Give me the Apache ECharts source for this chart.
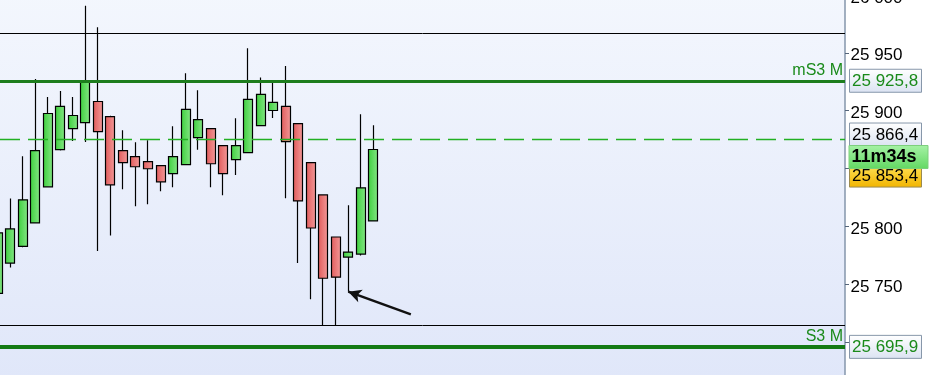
<!DOCTYPE html>
<html>
<head>
<meta charset="utf-8">
<script src="https://cdn.jsdelivr.net/npm/echarts@6/dist/echarts.min.js"></script>
<style>
  html, body { margin: 0; padding: 0; background: #ffffff; }
  #chart { width: 931px; height: 375px; }
</style>
</head>
<body>
<div id="chart"></div>
<script>
// Bar positions (bar index along the time axis)
const barIndex = [0, 1, 2, 3, 4, 5, 6, 7, 8, 9, 10, 11, 12, 13, 14, 15,
  16, 17, 18, 19, 20, 21, 22, 23, 24, 25, 26, 27, 28, 29, 30];
const opens = [25742.2, 25768.3, 25782.7, 25803.0, 25834.2, 25866.3, 25884.5, 25889.7,
  25907.9, 25894.9, 25865.4, 25860.2, 25855.9, 25852.4, 25845.5, 25853.3,
  25876.7, 25884.5, 25869.8, 25857.6, 25863.7, 25887.1, 25900.1, 25903.6,
  25888.8, 25855.0, 25827.2, 25790.8, 25773.5, 25776.1, 25804.7];
const closes = [25794.3, 25797.8, 25822.9, 25865.4, 25897.5, 25903.6, 25895.8, 25925.5,
  25881.9, 25835.9, 25855.0, 25851.5, 25849.8, 25838.5, 25860.2, 25901.0,
  25892.3, 25854.1, 25845.5, 25869.8, 25909.7, 25914.0, 25907.1, 25873.2,
  25822.0, 25798.6, 25755.2, 25756.1, 25777.8, 25833.3, 25866.4];
const lows = [25735.0, 25764.4, 25782.0, 25802.5, 25833.5, 25865.5, 25873.7, 25872.9,
  25778.7, 25792.2, 25832.1, 25817.4, 25819.1, 25830.4, 25833.8, 25852.8,
  25866.3, 25833.8, 25826.9, 25844.3, 25863.2, 25886.6, 25893.7, 25824.3,
  25768.3, 25737.0, 25714.2, 25714.2, 25743.6, 25774.8, 25804.2];
const highs = [25801.0, 25824.0, 25860.5, 25927.3, 25911.7, 25916.9, 25911.7, 25990.6,
  25972.1, 25895.5, 25883.0, 25872.6, 25874.4, 25852.9, 25886.5, 25932.2,
  25917.7, 25885.0, 25870.3, 25893.4, 25953.9, 25928.7, 25925.3, 25938.6,
  25889.3, 25855.5, 25827.7, 25791.3, 25818.2, 25896.9, 25887.4];

// Horizontal price levels
const levelValues = [25967.2, 25925.8, 25875.0, 25714.2, 25695.9];
const levelNames  = ['', 'mS3 M', '', '', 'S3 M'];
const levelKinds  = ['thin', 'pivot', 'dash', 'thin', 'pivotBold'];

// Right-hand price tags
const lastPrice = 25866.4;
const secondPrice = 25853.4;
const countdownText = '11m34s';

// Arrow annotation: tail and head in (bar, price)
const arrowTail = [33.0, 25724.0];
const arrowHead = [28.0, 25743.6];

// Axis labels hidden behind price tags
const hiddenTicks = [25700, 25850];

const FONT = "'Liberation Sans', Arial, sans-serif";

function fmtThousands(v, decimals) {
  const s = v.toFixed(decimals).split('.');
  const intPart = s[0].replace(/\B(?=(\d{3})+(?!\d))/g, ' ');
  return s.length > 1 ? intPart + ',' + s[1] : intPart;
}

function grad(c0, c1) {
  return new echarts.graphic.LinearGradient(0, 0, 1, 0, [
    { offset: 0, color: c0 }, { offset: 1, color: c1 }
  ]);
}
function vgrad(c0, c1) {
  return new echarts.graphic.LinearGradient(0, 0, 0, 1, [
    { offset: 0, color: c0 }, { offset: 1, color: c1 }
  ]);
}

const candleData = barIndex.map((x, i) => [x, opens[i], closes[i], lows[i], highs[i]]);

const levelStyles = {
  thin:      { color: '#000000', width: 1, type: 'solid' },
  pivot:     { color: '#1d7d1d', width: 3, type: 'solid' },
  pivotBold: { color: '#147a14', width: 4, type: 'solid' },
  dash:      { color: '#22b022', width: 1.3, type: [20, 8], opacity: 1 }
};

const levelLines = levelValues.map((v, i) => ({
  yAxis: v,
  lineStyle: levelStyles[levelKinds[i]],
  label: {
    show: levelNames[i] !== '',
    formatter: levelNames[i],
    position: 'insideEndTop',
    distance: 2,
    color: '#1a8a1a',
    fontFamily: FONT,
    fontSize: 16
  }
}));

const arrowLine = [
  { coord: arrowTail, symbol: 'none' },
  { coord: arrowHead, symbol: 'arrow', symbolSize: [10, 13],
    lineStyle: { color: '#111111', width: 2.5, type: 'solid' }, label: { show: false } }
];

const chart = echarts.init(document.getElementById('chart'), null, { renderer: 'canvas' });

chart.setOption({
  animation: false,
  backgroundColor: '#ffffff',
  grid: {
    left: 0, right: 86, top: -63, bottom: -25,
    outerBoundsMode: 'none',
    containLabel: false,
    show: true, borderWidth: 0,
    backgroundColor: vgrad('#f6f9fe', '#dfe6f9')
  },
  xAxis: {
    type: 'value',
    min: 0.177, max: 67.685,
    show: false
  },
  yAxis: {
    type: 'value',
    position: 'right',
    min: 25650, max: 26050, interval: 50,
    splitLine: { show: false },
    axisLine: { show: true, lineStyle: { color: '#8596ab', width: 1.5 } },
    axisTick: { show: true, inside: false, length: 4, lineStyle: { color: '#55657a' } },
    axisLabel: {
      margin: 5.5,
      color: '#000000',
      fontFamily: FONT,
      fontSize: 17,
      formatter: v => hiddenTicks.includes(v) ? '' : '{t|' + fmtThousands(v, 0) + '}',
      rich: {
        t: { fontFamily: FONT, fontSize: 17, color: '#000000', padding: [6, 0, 0, 0] }
      }
    }
  },
  series: [{
    type: 'candlestick',
    data: candleData,
    encode: { x: 0, y: [1, 2, 3, 4] },
    barWidth: 9.5,
    clip: true,
    itemStyle: {
      color: grad('#3ccf3c', '#86e686'),
      color0: grad('#e05a5a', '#f39a9a'),
      borderColor: '#000000',
      borderColor0: '#000000',
      borderWidth: 1.2
    },
    markLine: {
      silent: true,
      symbol: ['none', 'none'],
      animation: false,
      data: levelLines.concat([arrowLine])
    }
  }]
});

// Price tags on the right axis, placed from the y scale
function yPx(v) { return chart.convertToPixel({ yAxisIndex: 0 }, v); }

function tag(y, text, opts) {
  const h = 23;
  return {
    type: 'group',
    z: 100,
    children: [
      {
        type: 'rect',
        shape: { x: opts.x || 849.5, y: y - h / 2, width: opts.w || 72, height: h },
        style: { fill: opts.fill, stroke: opts.stroke || '#8797aa', lineWidth: 1 },
        z: 100
      },
      {
        type: 'text',
        x: (opts.x || 849.5) + 2.5,
        y: y + 0.5,
        style: {
          text: text,
          fill: opts.color || '#000000',
          font: (opts.weight || 'normal') + ' ' + (opts.size || 17) + 'px ' + FONT,
          verticalAlign: 'middle',
          align: 'left'
        },
        z: 101
      }
    ]
  };
}

const tagFill = vgrad('#ffffff', '#dbe3f2');
chart.setOption({
  graphic: [
    tag(yPx(levelValues[1]), fmtThousands(levelValues[1], 1), { fill: tagFill, color: '#1a8a1a' }),
    tag(yPx(levelValues[4]), fmtThousands(levelValues[4], 1), { fill: tagFill, color: '#1a8a1a' }),
    tag(yPx(secondPrice) + 11, fmtThousands(secondPrice, 1), { fill: vgrad('#ffe45a', '#f2b400'), stroke: '#9a8a50' }),
    tag(yPx(lastPrice) - 15, fmtThousands(lastPrice, 1), { fill: tagFill }),
    tag(yPx(lastPrice) + 7.5, countdownText, { fill: vgrad('#a6f2a6', '#62d862'), stroke: '#7ccf7c', weight: 'bold', size: 18, x: 849, w: 79 })
  ]
});
</script>
</body>
</html>
